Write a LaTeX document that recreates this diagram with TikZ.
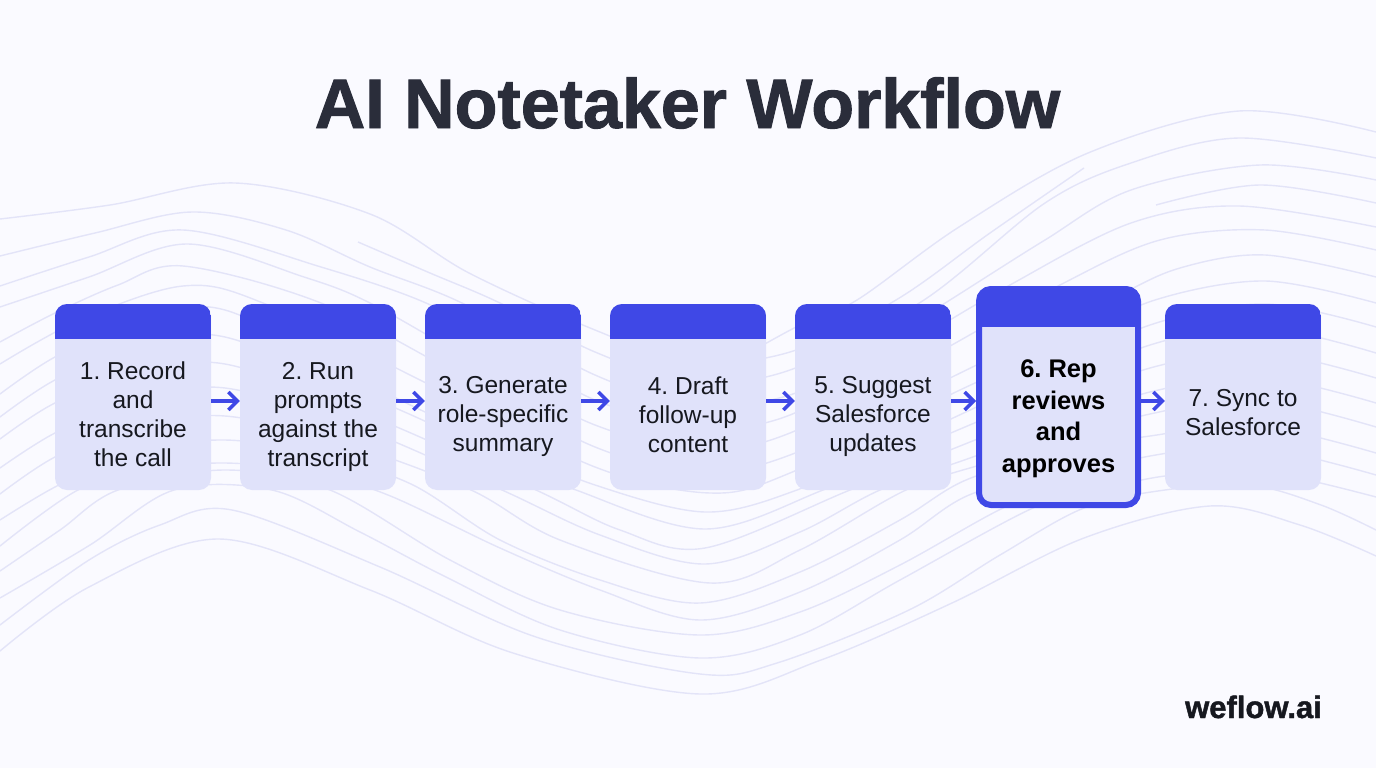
\documentclass[tikz,border=0pt]{standalone}
\usepackage{fontspec}
\setmainfont{Liberation Sans}
\newfontfamily\heavyfont{Liberation Sans}[BoldFeatures={FakeBold=1.4}]
\usetikzlibrary{arrows.meta}
\definecolor{pagebg}{HTML}{FAFAFF}
\definecolor{wavecol}{HTML}{E3E4F8}
\definecolor{hdrblue}{HTML}{3F48E6}
\definecolor{bodycol}{HTML}{E0E2FA}
\definecolor{titlecol}{HTML}{2A2D3A}
\definecolor{textcol}{HTML}{16181F}
\tikzset{
 wave/.style={draw=wavecol,line width=1.4pt,smooth,tension=0.55},
 card/.style={fill=bodycol,rounded corners=12pt,inner sep=0pt,minimum width=156pt,minimum height=186pt,
  path picture={\fill[hdrblue,sharp corners] (path picture bounding box.north west) rectangle ([yshift=-35pt]path picture bounding box.north east);}},
 bigcard/.style={fill=bodycol,draw=hdrblue,line width=6pt,rounded corners=12pt,inner sep=0pt,minimum width=159pt,minimum height=216pt,
  path picture={\fill[hdrblue,sharp corners] (path picture bounding box.north west) rectangle ([yshift=-38pt]path picture bounding box.north east);}},
 cardtext/.style={text=textcol,align=center,font=\fontsize{24.5}{29}\selectfont\frenchspacing,execute at begin node=\strut,execute at end node=\strut},
 bigtext/.style={text=black,align=center,font=\fontsize{25.5}{31.5}\selectfont\bfseries\frenchspacing,execute at begin node=\strut,execute at end node=\strut},
 flow/.style={draw=hdrblue,line width=3.5pt,-{Straight Barb[length=9pt,width=18pt,line width=3.5pt]}}
}
\begin{document}
\begin{tikzpicture}[x=1pt,y=-1pt]
 \useasboundingbox (0,0) rectangle (1376,768);
 \fill[pagebg] (0,0) rectangle (1376,768);
 % background waves
 \draw[wave] plot coordinates {(740,358)(800,325)(857,300)(959,227)(1088,153)(1239,111)(1376,132)};
 \draw[wave] plot coordinates {(0,219)(110,205)(235,183)(370,214)(469,273)(595,330)(690,362)(790,352)(896,300)(990,233)(1084,168)};
 \draw[wave] plot coordinates {(358,242)(430,273)(500,303)(595,352)(690,382)(790,370)(924,300)(1045,203)(1131,163)(1239,138)(1376,158)};
 \draw[wave] plot coordinates {(0,256)(95,233)(192,212)(286,230)(370,267)(462,303)(595,375)(695,405)(790,395)(870,350)(950,300)(1045,240)(1131,190)(1260,165)(1376,180)};
 \draw[wave] plot coordinates {(1156,205)(1260,185)(1376,203)};
 \draw[wave] plot coordinates {(0,286)(89,257)(183,230)(321,267)(426,303)(510,350)(595,400)(700,428)(790,415)(900,350)(1010,285)(1131,223)(1239,206)(1376,227)};
 \draw[wave] plot coordinates {(0,307)(89,277)(187,244)(304,277)(370,303)(480,365)(595,425)(700,450)(790,433)(925,360)(1060,285)(1160,240)(1265,230)(1376,250)};
 \draw[wave] plot coordinates {(0,342)(55,313)(118,285)(183,266)(321,303)(460,375)(595,447)(700,472)(790,455)(950,378)(1109,300)(1180,268)(1265,255)(1376,277)};
 \draw[wave] plot coordinates {(0,364)(80,320)(183,286)(263,303)(430,385)(595,467)(710,493)(790,473)(960,390)(1060,345)(1155,300)(1265,281)(1376,303)};
 \draw[wave] plot coordinates {(0,394)(55,357)(130,325)(225,310)(400,400)(500,445)(595,485)(705,512)(797,490)(910,438)(1030,382)(1150,325)(1265,304)(1376,327)};
 \draw[wave] plot coordinates {(0,417)(55,380)(130,350)(225,337)(400,410)(490,452)(576,490)(705,529)(823,490)(930,442)(1040,395)(1150,345)(1260,327)(1376,353)};
 \draw[wave] plot coordinates {(0,439)(55,403)(130,376)(225,364)(380,420)(536,490)(620,530)(705,548)(850,490)(950,450)(1050,410)(1150,368)(1260,352)(1376,378)};
 \draw[wave] plot coordinates {(0,468)(55,433)(130,402)(225,388)(365,430)(502,490)(600,535)(705,564)(800,532)(880,490)(970,458)(1060,425)(1150,392)(1260,377)(1376,403)};
 \draw[wave] plot coordinates {(0,494)(55,457)(130,428)(225,416)(350,445)(471,490)(560,540)(710,583)(800,550)(906,490)(990,462)(1070,438)(1150,414)(1255,399)(1376,427)};
 \draw[wave] plot coordinates {(0,520)(55,487)(130,452)(225,440)(320,455)(411,484)(500,540)(600,580)(700,603)(800,572)(900,520)(966,480)(1060,452)(1150,436)(1255,425)(1376,453)};
 \draw[wave] plot coordinates {(0,546)(78,490)(150,470)(225,463)(310,472)(388,495)(500,548)(600,590)(700,620)(800,592)(900,540)(974,493)(1090,470)};
 \draw[wave] plot coordinates {(0,571)(60,530)(118,490)(225,470)(330,490)(450,560)(560,610)(700,635)(800,612)(900,565)(1003,508)(1080,478)(1150,456)(1255,447)(1376,475)};
 \draw[wave] plot coordinates {(0,598)(90,545)(174,490)(272,490)(360,532)(446,577)(560,630)(700,658)(800,635)(900,580)(1033,508)(1100,490)(1165,476)(1255,470)(1376,497)};
 \draw[wave] plot coordinates {(0,625)(89,560)(160,525)(232,510)(380,567)(536,637)(700,674)(777,663)(909,610)(1000,555)(1084,508)(1165,490)(1250,485)(1321,505)(1376,530)};
 \draw[wave] plot coordinates {(0,651)(89,587)(219,539)(370,590)(513,653)(700,694)(821,660)(952,603)(1084,538)(1210,506)(1300,525)(1376,556)};
 % title and logo
 \node[text=titlecol,font=\fontsize{70}{70}\selectfont\heavyfont\bfseries,anchor=base] (title) at (687.5,128) {AI Notetaker Workflow};
 \node[text=textcol,font=\fontsize{31}{31}\selectfont\heavyfont\bfseries,anchor=base east,inner sep=0pt] (logo) at (1322,718) {weflow.ai};
 % cards
 \node[card] (card1) at (133,397) {};
 \node[card] (card2) at (318,397) {};
 \node[card] (card3) at (503,397) {};
 \node[card] (card4) at (688,397) {};
 \node[card] (card5) at (873,397) {};
 \node[bigcard] (card6) at (1058.5,397) {};
 \node[card] (card7) at (1243,397) {};
 \node[cardtext] (text1) at (133,418.5) {1. Record\\and\\transcribe\\the call};
 \node[cardtext] (text2) at (318,418.5) {2. Run\\prompts\\against the\\transcript};
 \node[cardtext] (text3) at (503,418.5) {3. Generate\\role-specific\\summary};
 \node[cardtext] (text4) at (688,418.5) {4. Draft\\follow-up\\content};
 \node[cardtext] (text5) at (873,418.5) {5. Suggest\\Salesforce\\updates};
 \node[bigtext] (text6) at (1058.5,421) {6. Rep\\reviews\\and\\approves};
 \node[cardtext] (text7) at (1243,417) {7. Sync to\\Salesforce};
 % arrows
 \draw[flow] ([yshift=-4pt]card1.east) -- ([yshift=-4pt]card2.west);
 \draw[flow] ([yshift=-4pt]card2.east) -- ([yshift=-4pt]card3.west);
 \draw[flow] ([yshift=-4pt]card3.east) -- ([yshift=-4pt]card4.west);
 \draw[flow] ([yshift=-4pt]card4.east) -- ([yshift=-4pt]card5.west);
 \draw[flow] ([yshift=-4pt]card5.east) -- ([yshift=-4pt]card6.west);
 \draw[flow] ([yshift=-4pt]card6.east) -- ([yshift=-4pt]card7.west);
\end{tikzpicture}
\end{document}
